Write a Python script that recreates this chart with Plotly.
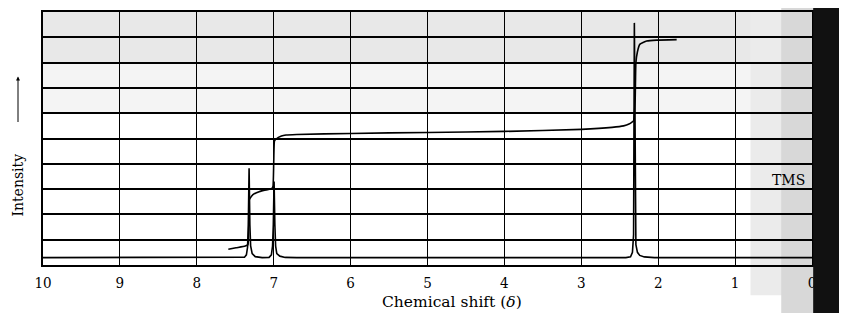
import plotly.graph_objects as go

# --- data ---
x_ticks = [10, 9, 8, 7, 6, 5, 4, 3, 2, 1, 0]
x_tick_labels = ["10", "9", "8", "7", "6", "5", "4", "3", "2", "1", "0"]

# NMR spectrum trace (chemical shift, intensity in grid units)
spec_delta = [10.0, 7.45, 7.38, 7.355, 7.34, 7.33, 7.32, 7.31, 7.30, 7.28, 7.24, 7.15,
              7.06, 7.03, 7.015, 7.005, 6.995, 6.985, 6.975, 6.96, 6.92, 6.85, 6.7,
              2.42, 2.36, 2.335, 2.32, 2.31, 2.30, 2.29, 2.27, 2.24, 2.18, 2.05, 0.0]
spec_value = [0.29, 0.29, 0.31, 0.40, 0.70, 1.6, 3.82, 1.6, 0.75, 0.45, 0.33, 0.29,
              0.30, 0.40, 0.75, 1.6, 3.3, 1.6, 0.75, 0.45, 0.35, 0.30, 0.29,
              0.29, 0.32, 0.50, 1.2, 9.57, 1.5, 0.8, 0.5, 0.38, 0.32, 0.29, 0.29]

# Integral trace
int_delta = [7.59, 7.49, 7.37, 7.335, 7.325, 7.32, 7.31, 7.27, 7.19, 7.10, 7.03,
             7.01, 7.0, 6.99, 6.97, 6.9, 6.84, 6.7, 6.0, 5.0, 4.0, 3.0, 2.6, 2.45,
             2.38, 2.34, 2.32, 2.30, 2.29, 2.27, 2.24, 2.15, 2.02, 1.76]
int_value = [0.62, 0.68, 0.75, 0.80, 1.5, 2.55, 2.62, 2.78, 2.90, 2.97, 3.01,
             3.1, 4.0, 4.9, 4.98, 5.10, 5.14, 5.16, 5.20, 5.24, 5.28, 5.36, 5.44, 5.50,
             5.57, 5.65, 5.70, 6.5, 8.0, 8.43, 8.72, 8.85, 8.89, 8.91]

SERIF = "DejaVu Serif"
SERIF_NARROW = "DejaVu Serif Condensed, DejaVu Serif"

fig = go.Figure()
fig.add_trace(go.Scatter(x=spec_delta, y=spec_value, mode="lines",
                         line=dict(color="black", width=1.6), hoverinfo="skip"))
fig.add_trace(go.Scatter(x=int_delta, y=int_value, mode="lines",
                         line=dict(color="black", width=1.6, shape="spline", smoothing=0.4),
                         hoverinfo="skip"))

# light tints that imitate the speckled scan background
tints = [
    dict(x0=0, x1=1, y0=0.8, y1=1.0, c="#e8e8e8"),
    dict(x0=0, x1=1, y0=0.6, y1=0.8, c="#f4f4f4"),
    dict(x0=0.92, x1=1.0015, y0=-0.12, y1=1.0, c="#ebebeb"),
    dict(x0=0.96, x1=1.0015, y0=-0.2, y1=1.05, c="#d8d8d8"),
]
shapes = [dict(type="rect", xref="paper", yref="paper", x0=t["x0"], x1=t["x1"],
               y0=t["y0"], y1=t["y1"], fillcolor=t["c"], line=dict(width=0), layer="below")
          for t in tints]
shapes.append(dict(type="rect", xref="paper", yref="paper", x0=1.0015, x1=1.08,
                   y0=-0.3, y1=1.1, fillcolor="#111111", line=dict(width=0), layer="above"))

fig.update_layout(
    width=847, height=313,
    margin=dict(l=35, r=43, t=2, b=56),
    paper_bgcolor="white", plot_bgcolor="rgba(0,0,0,0)",
    showlegend=False,
    font=dict(family=SERIF, color="black"),
    xaxis=dict(range=[10, 0], tickvals=x_ticks, ticktext=x_tick_labels,
               showgrid=True, gridcolor="black", gridwidth=1.4,
               zeroline=False, showline=True, mirror=True, linecolor="black", linewidth=2,
               ticks="", ticklabelstandoff=3,
               tickfont=dict(family=SERIF_NARROW, size=15, color="black")),
    yaxis=dict(range=[0, 10], dtick=1, showticklabels=False,
               showgrid=True, gridcolor="black", gridwidth=1.6,
               zeroline=False, showline=True, mirror=True, linecolor="black", linewidth=2,
               ticks=""),
    shapes=shapes,
    annotations=[
        dict(text="Intensity", xref="paper", yref="paper", x=-0.0325, y=0.314,
             xanchor="center", yanchor="middle",
             textangle=-90, showarrow=False, font=dict(family=SERIF, size=14)),
        dict(text="", xref="paper", yref="paper", x=-0.0325, y=0.745,
             showarrow=True, ax=0, ay=47, arrowhead=2, arrowsize=0.8, arrowwidth=1,
             arrowcolor="black"),
        dict(text="TMS", xref="paper", yref="paper", x=0.970, y=0.337,
             xanchor="center", yanchor="middle",
             showarrow=False, font=dict(family=SERIF, size=14)),
        dict(text="Chemical shift (<i>δ</i>)", xref="paper", yref="paper", x=0.532, y=-0.148,
             xanchor="center", yanchor="middle",
             showarrow=False, font=dict(family=SERIF, size=15.5)),
    ],
)

fig.write_html("out.html")
